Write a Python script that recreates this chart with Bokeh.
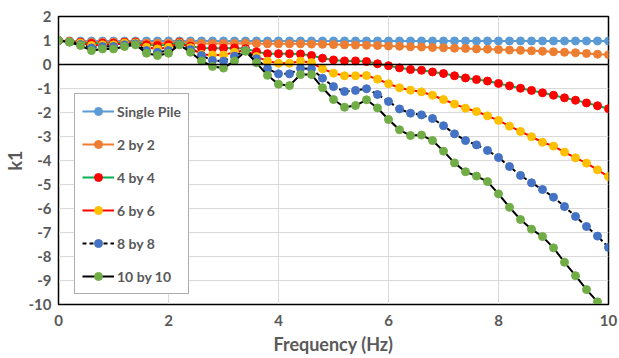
from bokeh.plotting import figure
from bokeh.models import Span, Legend, LegendItem, FixedTicker, Range1d
from bokeh.embed import file_html
from bokeh.resources import INLINE

freq = [round(0.2 * i, 1) for i in range(51)]

single_pile = [1.0] + [0.98] * 50

by2 = [1.0, 0.97, 0.94, 0.92, 0.93, 0.93, 0.94, 0.94, 0.90, 0.89,
       0.90, 0.94, 0.91, 0.88, 0.87, 0.87, 0.88, 0.89, 0.87, 0.86,
       0.86, 0.86, 0.86, 0.85, 0.84, 0.83, 0.82, 0.81, 0.80, 0.79,
       0.77, 0.76, 0.74, 0.73, 0.71, 0.70, 0.68, 0.67, 0.65, 0.64,
       0.62, 0.60, 0.59, 0.57, 0.55, 0.53, 0.51, 0.49, 0.46, 0.43, 0.41]

by4 = [1.0, 0.96, 0.92, 0.88, 0.89, 0.89, 0.92, 0.93, 0.82, 0.79,
       0.82, 0.92, 0.76, 0.69, 0.68, 0.68, 0.69, 0.66, 0.53, 0.45,
       0.45, 0.45, 0.44, 0.375, 0.26, 0.19, 0.15, 0.15, 0.125, 0.03,
       -0.05, -0.14, -0.21, -0.24, -0.31, -0.375, -0.47, -0.56, -0.625, -0.69,
       -0.79, -0.89, -0.99, -1.08, -1.18, -1.28, -1.39, -1.49, -1.60, -1.72, -1.84]

by6 = [1.0, 0.95, 0.89, 0.79, 0.82, 0.82, 0.89, 0.90, 0.72, 0.65,
       0.72, 0.89, 0.70, 0.42, 0.40, 0.40, 0.51, 0.60, 0.33, 0.14,
       0.05, 0.05, 0.14, 0.08, -0.18, -0.36, -0.47, -0.47, -0.46, -0.61,
       -0.80, -0.97, -1.07, -1.14, -1.28, -1.46, -1.65, -1.82, -1.96, -2.14,
       -2.33, -2.57, -2.79, -3.01, -3.24, -3.40, -3.65, -3.89, -4.11, -4.39, -4.67]

by8 = [1.0, 0.94, 0.83, 0.69, 0.75, 0.75, 0.82, 0.86, 0.58, 0.51,
       0.58, 0.86, 0.62, 0.375, 0.17, 0.14, 0.35, 0.58, 0.24, -0.17,
       -0.39, -0.39, -0.16, -0.18, -0.57, -0.92, -1.125, -1.08, -1.01, -1.25,
       -1.54, -1.85, -2.03, -2.10, -2.25, -2.55, -2.89, -3.17, -3.35, -3.58,
       -3.875, -4.25, -4.62, -4.93, -5.21, -5.53, -5.92, -6.33, -6.75, -7.15, -7.62]

by10 = [1.0, 0.93, 0.79, 0.58, 0.65, 0.65, 0.75, 0.82, 0.47, 0.375,
        0.47, 0.82, 0.51, 0.15, -0.08, -0.15, 0.15, 0.55, 0.07, -0.45,
        -0.82, -0.88, -0.42, -0.42, -0.97, -1.46, -1.78, -1.71, -1.47, -1.81,
        -2.29, -2.72, -2.96, -2.94, -3.17, -3.61, -4.10, -4.47, -4.65, -4.88,
        -5.39, -5.95, -6.46, -6.86, -7.17, -7.64, -8.24, -8.80, -9.38, -9.89, -10.4]

x_ticks = [0, 2, 4, 6, 8, 10]
y_ticks = list(range(-10, 3))

labels = ["Single Pile", "2 by 2", "4 by 4", "6 by 6", "8 by 8", "10 by 10"]
series = [single_pile, by2, by4, by6, by8, by10]
line_colors = ["#5B9BD5", "#ED7D31", "#00B050", "#FF0000", "#000000", "#000000"]
marker_colors = ["#5B9BD5", "#ED7D31", "#FF0000", "#FFC000", "#4472C4", "#70AD47"]
dashes = ["solid", "solid", "solid", "solid", "4 3", "solid"]

FONT = "Lato"
GREY = "#595959"

p = figure(width=619, height=358, output_backend="svg", toolbar_location=None,
           x_range=Range1d(0, 10), y_range=Range1d(-10, 2),
           min_border_left=57, min_border_right=11, min_border_top=16, min_border_bottom=54)
p.background_fill_color = "white"
p.border_fill_color = "white"
p.outline_line_color = "black"
p.outline_line_width = 1.5

p.xaxis.ticker = FixedTicker(ticks=x_ticks)
p.yaxis.ticker = FixedTicker(ticks=y_ticks)
p.xaxis.major_label_overrides = {t: str(t) for t in x_ticks}
p.yaxis.major_label_overrides = {t: str(t) for t in y_ticks}
for ax in (p.xaxis, p.yaxis):
    ax.major_tick_line_color = None
    ax.minor_tick_line_color = None
    ax.major_tick_out = 0
    ax.major_tick_in = 0
    ax.minor_tick_out = 0
    ax.minor_tick_in = 0
    ax.axis_line_color = "black"
    ax.major_label_text_font = FONT
    ax.major_label_text_font_style = "bold"
    ax.major_label_text_font_size = "15px"
    ax.major_label_text_color = GREY
    ax.axis_label_text_font = FONT
    ax.axis_label_text_font_style = "bold"
    ax.axis_label_text_font_size = "18px"
    ax.axis_label_text_color = GREY
p.xaxis.axis_label = "Frequency (Hz)"
p.yaxis.axis_label = "k1"
p.xaxis.major_label_standoff = 10
p.yaxis.major_label_standoff = 7
p.xaxis.axis_label_standoff = 4
p.yaxis.axis_label_standoff = 0

p.xgrid.grid_line_color = "#D9D9D9"
p.ygrid.grid_line_color = "#D9D9D9"
p.xgrid.grid_line_width = 1
p.ygrid.grid_line_width = 1

p.add_layout(Span(location=0, dimension="width", line_color="black", line_width=1.5))

items = []
for lab, ys, lc, mc, ds in zip(labels, series, line_colors, marker_colors, dashes):
    lr = p.line(freq, ys, line_color=lc, line_width=2, line_dash=ds)
    sr = p.scatter(freq, ys, marker="circle", size=8, fill_color=mc, line_color=mc)
    items.append(LegendItem(label=lab, renderers=[lr, sr]))

legend = Legend(items=items, location=(16, 10))
legend.glyph_width = 32
legend.glyph_height = 20
legend.label_height = 20
legend.spacing = 13
legend.padding = 7
legend.margin = 0
legend.label_standoff = 3
legend.label_text_font = FONT
legend.label_text_font_style = "bold"
legend.label_text_font_size = "14px"
legend.label_text_color = GREY
legend.border_line_color = "#595959"
legend.border_line_width = 1
legend.background_fill_color = "white"
legend.background_fill_alpha = 1
p.add_layout(legend, "center")

open("out.html", "w").write(file_html(p, INLINE))
